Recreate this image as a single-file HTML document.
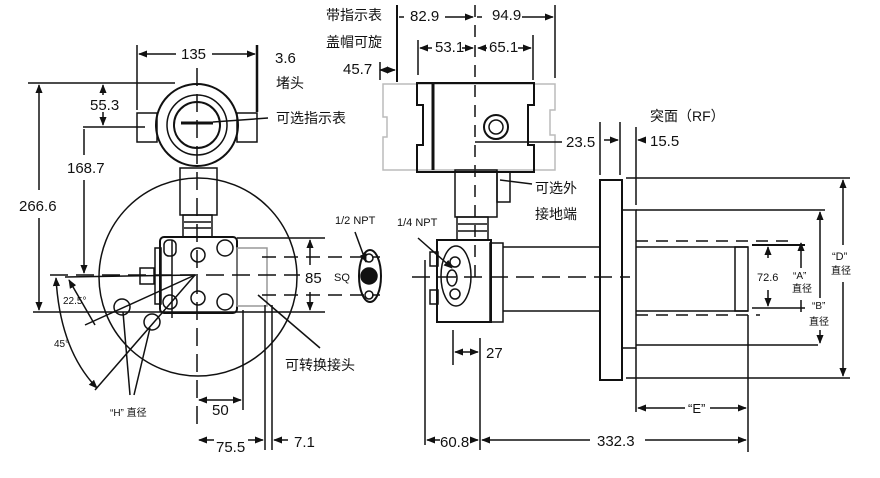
<!DOCTYPE html>
<html><head><meta charset="utf-8"><style>
html,body{margin:0;padding:0;background:#fff}
svg{display:block}
text{font-family:"Liberation Sans","Noto Sans CJK SC",sans-serif;fill:#111}
</style></head><body>
<svg width="880" height="478" viewBox="0 0 880 478" xmlns="http://www.w3.org/2000/svg">
<defs>
<marker id="a" viewBox="0 0 10 10" refX="9" refY="5" markerWidth="6" markerHeight="6" orient="auto-start-reverse"><path d="M0,1 L10,5 L0,9 z" fill="#111"/></marker>
</defs>
<g stroke="#111" stroke-width="1.5" fill="none">
<!-- LEFT VIEW -->
<line x1="197" y1="68" x2="197" y2="432" stroke-dasharray="18,8"/>
<line x1="137" y1="45" x2="137" y2="110"/><line x1="257" y1="45" x2="257" y2="112" stroke-width="2.5"/>
<line x1="139" y1="54" x2="176" y2="54" marker-start="url(#a)"/><line x1="212" y1="54" x2="255" y2="54" marker-end="url(#a)"/>
<line x1="28" y1="83" x2="175" y2="83"/>
<line x1="103" y1="85" x2="103" y2="95" marker-start="url(#a)"/><line x1="103" y1="112" x2="103" y2="125" marker-end="url(#a)"/>
<line x1="83" y1="127" x2="145" y2="127"/>
<line x1="39" y1="85" x2="39" y2="190" marker-start="url(#a)"/><line x1="39" y1="218" x2="39" y2="310" marker-end="url(#a)"/>
<line x1="84" y1="129" x2="84" y2="155" /><line x1="84" y1="180" x2="84" y2="273" marker-end="url(#a)"/>
<circle cx="197" cy="125" r="41" stroke-width="2"/>
<circle cx="197" cy="125" r="30"/>
<circle cx="197" cy="125" r="23" stroke-width="2"/>
<line x1="181" y1="123" x2="213" y2="123" stroke-width="3"/>
<rect x="137" y="113" width="20" height="29"/><rect x="237" y="113" width="20" height="29"/>
<rect x="180" y="168" width="37" height="47"/>
<rect x="183" y="215" width="29" height="22"/>
<line x1="184" y1="222" x2="211" y2="222"/><line x1="184" y1="228" x2="211" y2="228"/>
<circle cx="198" cy="277" r="99"/>
<rect x="160" y="237" width="77" height="76" rx="4" stroke-width="2"/>
<rect x="237" y="248" width="30" height="58" stroke="#999"/>
<rect x="155" y="248" width="6" height="56"/>
<rect x="140" y="268" width="14" height="16"/>
<rect x="164" y="240" width="12" height="16" rx="5"/>
<circle cx="170" cy="302" r="7"/><circle cx="225" cy="248" r="8"/><circle cx="225" cy="302" r="8"/>
<circle cx="198" cy="255" r="7"/><circle cx="198" cy="298" r="7"/>
<line x1="172" y1="240" x2="172" y2="318"/>
<line x1="50" y1="275" x2="300" y2="275" stroke-dasharray="18,8"/>
<line x1="237" y1="238" x2="325" y2="238"/><line x1="33" y1="312" x2="325" y2="312"/>
<line x1="262" y1="257" x2="380" y2="257" stroke-dasharray="14,8"/><line x1="262" y1="295" x2="380" y2="295" stroke-dasharray="14,8"/>
<line x1="310" y1="240" x2="310" y2="265" marker-start="url(#a)"/><line x1="310" y1="292" x2="310" y2="310" marker-end="url(#a)"/>
<ellipse cx="370" cy="276" rx="11" ry="26" stroke-width="2"/>
<circle cx="369" cy="258" r="4"/><circle cx="369" cy="295" r="4"/><circle cx="369" cy="276" r="8" fill="#111"/>
<line x1="355" y1="232" x2="366" y2="262" marker-end="url(#a)"/>
<!-- angle/H -->
<line x1="65" y1="277" x2="195" y2="275"/>
<circle cx="122" cy="307" r="8"/><circle cx="152" cy="322" r="8"/>
<line x1="85" y1="325" x2="195" y2="275"/><line x1="95" y1="390" x2="195" y2="275"/>
<line x1="69" y1="280" x2="95" y2="325" marker-start="url(#a)"/>
<path d="M56 278 Q60 350 97 388" marker-start="url(#a)" marker-end="url(#a)"/>
<line x1="130" y1="395" x2="123" y2="312"/><line x1="134" y1="395" x2="150" y2="328"/>
<!-- bottom dims -->
<line x1="243" y1="310" x2="243" y2="410"/><line x1="265" y1="305" x2="265" y2="450"/><line x1="272" y1="305" x2="272" y2="450"/>
<line x1="199" y1="400" x2="241" y2="400" marker-start="url(#a)" marker-end="url(#a)"/>
<line x1="199" y1="440" x2="214" y2="440" marker-start="url(#a)"/><line x1="248" y1="440" x2="263" y2="440" marker-end="url(#a)"/>
<line x1="288" y1="440" x2="274" y2="440" marker-end="url(#a)"/>
<line x1="258" y1="295" x2="320" y2="348"/>
<line x1="213" y1="122" x2="268" y2="118"/>
<!-- RIGHT VIEW -->
<line x1="397" y1="5" x2="397" y2="82" stroke-width="2"/>
<line x1="399" y1="17" x2="404" y2="17"/><line x1="445" y1="17" x2="473" y2="17" marker-end="url(#a)"/>
<line x1="477" y1="17" x2="482" y2="17"/><line x1="522" y1="17" x2="553" y2="17" marker-end="url(#a)"/>
<line x1="475" y1="5" x2="475" y2="280" stroke-dasharray="12,8"/>
<line x1="555" y1="5" x2="555" y2="78"/>
<line x1="420" y1="48" x2="432" y2="48" marker-start="url(#a)"/><line x1="462" y1="48" x2="473" y2="48" marker-end="url(#a)"/>
<line x1="478" y1="48" x2="487" y2="48" marker-start="url(#a)"/><line x1="518" y1="48" x2="531" y2="48" marker-end="url(#a)"/>
<line x1="418" y1="40" x2="418" y2="75"/><line x1="533" y1="35" x2="533" y2="80"/>
<line x1="380" y1="62" x2="380" y2="80"/><line x1="380" y1="70" x2="395" y2="70" marker-start="url(#a)" marker-end="url(#a)"/>
<path d="M383 84 H555 V110 H550 V135 H555 V170 H383 V137 H387 V117 H383 Z" stroke="#bbb"/>
<path d="M417 83 H534 V105 H528 V145 H534 V172 H417 V145 H423 V105 H417 Z" stroke-width="2"/>
<line x1="433" y1="84" x2="433" y2="170" stroke-width="3"/>
<circle cx="496" cy="127" r="12" stroke-width="2"/><circle cx="496" cy="127" r="7"/>
<line x1="475" y1="142" x2="562" y2="142"/>
<rect x="455" y="170" width="42" height="47"/><rect x="497" y="172" width="13" height="30"/>
<line x1="500" y1="180" x2="532" y2="184"/>
<rect x="457" y="217" width="31" height="23"/>
<line x1="458" y1="224" x2="487" y2="224"/><line x1="458" y1="231" x2="487" y2="231"/>
<rect x="437" y="240" width="54" height="82" stroke-width="2"/>
<ellipse cx="456" cy="276" rx="15" ry="30"/><circle cx="455" cy="262" r="5"/><circle cx="455" cy="294" r="5"/><ellipse cx="452" cy="278" rx="5" ry="8"/>
<rect x="430" y="252" width="8" height="14"/><rect x="430" y="290" width="8" height="14"/>
<rect x="490" y="243" width="13" height="79"/>
<line x1="503" y1="247" x2="600" y2="247"/><line x1="503" y1="311" x2="600" y2="311"/>
<line x1="412" y1="277" x2="630" y2="277" stroke-dasharray="18,8"/>
<line x1="418" y1="238" x2="452" y2="268" marker-end="url(#a)"/>
<rect x="600" y="180" width="22" height="200" stroke-width="2"/>
<rect x="622" y="210" width="14" height="138"/>
<line x1="626" y1="178" x2="850" y2="178"/><line x1="636" y1="210" x2="825" y2="210"/>
<line x1="636" y1="345" x2="818" y2="345"/><line x1="626" y1="378" x2="850" y2="378"/>
<line x1="636" y1="241" x2="790" y2="241" stroke-dasharray="12,8"/><line x1="636" y1="315" x2="760" y2="315" stroke-dasharray="12,8"/>
<line x1="636" y1="247" x2="748" y2="247"/><line x1="636" y1="311" x2="748" y2="311"/>
<rect x="735" y="247" width="13" height="64"/>
<line x1="752" y1="245" x2="805" y2="245" stroke-width="2"/><line x1="752" y1="308" x2="805" y2="308"/>
<line x1="768" y1="258" x2="768" y2="247" marker-end="url(#a)"/><line x1="768" y1="290" x2="768" y2="306" marker-end="url(#a)"/>
<line x1="801" y1="243" x2="801" y2="268" marker-start="url(#a)"/><line x1="801" y1="300" x2="801" y2="312"/>
<line x1="820" y1="212" x2="820" y2="298" marker-start="url(#a)"/><line x1="820" y1="330" x2="820" y2="343" marker-end="url(#a)"/>
<line x1="843" y1="180" x2="843" y2="245" marker-start="url(#a)"/><line x1="843" y1="282" x2="843" y2="376" marker-end="url(#a)"/>
<line x1="600" y1="122" x2="600" y2="175"/><line x1="620" y1="122" x2="620" y2="175"/><line x1="636" y1="127" x2="636" y2="205"/>
<line x1="604" y1="140" x2="618" y2="140" marker-end="url(#a)"/><line x1="645" y1="140" x2="638" y2="140" marker-end="url(#a)"/>
<line x1="636" y1="348" x2="636" y2="412"/>
<line x1="638" y1="408" x2="685" y2="408" marker-start="url(#a)"/><line x1="710" y1="408" x2="746" y2="408" marker-end="url(#a)"/>
<line x1="748" y1="315" x2="748" y2="452"/>
<line x1="425" y1="260" x2="425" y2="445"/><line x1="480" y1="338" x2="480" y2="450"/><line x1="453" y1="330" x2="453" y2="365"/>
<line x1="427" y1="440" x2="440" y2="440" marker-start="url(#a)"/><line x1="470" y1="440" x2="478" y2="440" marker-end="url(#a)"/>
<line x1="482" y1="440" x2="590" y2="440" marker-start="url(#a)"/><line x1="645" y1="440" x2="746" y2="440" marker-end="url(#a)"/>
<line x1="455" y1="352" x2="478" y2="352" marker-start="url(#a)" marker-end="url(#a)"/>
</g>
<g font-size="15">
<text x="181" y="59">135</text>
<text x="275" y="63">3.6</text>
<text x="276" y="88" font-size="14">堵头</text>
<text x="90" y="110">55.3</text>
<text x="276" y="123" font-size="14">可选指示表</text>
<text x="67" y="173">168.7</text>
<text x="19" y="211">266.6</text>
<text x="305" y="283">85</text>
<text x="334" y="281" font-size="11">SQ</text>
<text x="335" y="224" font-size="11">1/2 NPT</text>
<text x="63" y="304" font-size="10">22.5°</text>
<text x="54" y="347" font-size="10">45°</text>
<text x="110" y="416" font-size="10">“H” 直径</text>
<text x="285" y="370" font-size="14">可转换接头</text>
<text x="212" y="415">50</text>
<text x="216" y="452">75.5</text>
<text x="294" y="447">7.1</text>
<text x="326" y="20" font-size="14">带指示表</text>
<text x="326" y="47" font-size="14">盖帽可旋</text>
<text x="343" y="74">45.7</text>
<text x="410" y="21">82.9</text>
<text x="492" y="20">94.9</text>
<text x="435" y="52">53.1</text>
<text x="489" y="52">65.1</text>
<text x="566" y="147">23.5</text>
<text x="650" y="121" font-size="14">突面（RF）</text>
<text x="650" y="146">15.5</text>
<text x="535" y="193" font-size="14">可选外</text>
<text x="535" y="219" font-size="14">接地端</text>
<text x="397" y="226" font-size="11">1/4 NPT</text>
<text x="486" y="358">27</text>
<text x="440" y="447">60.8</text>
<text x="597" y="446">332.3</text>
<text x="688" y="413" font-size="13">“E”</text>
<text x="757" y="281" font-size="11">72.6</text>
<text x="793" y="279" font-size="10">“A”</text>
<text x="792" y="292" font-size="10">直径</text>
<text x="812" y="309" font-size="10">“B”</text>
<text x="809" y="325" font-size="10">直径</text>
<text x="832" y="260" font-size="11">“D”</text>
<text x="831" y="274" font-size="10">直径</text>
</g>
</svg>
</body></html>
